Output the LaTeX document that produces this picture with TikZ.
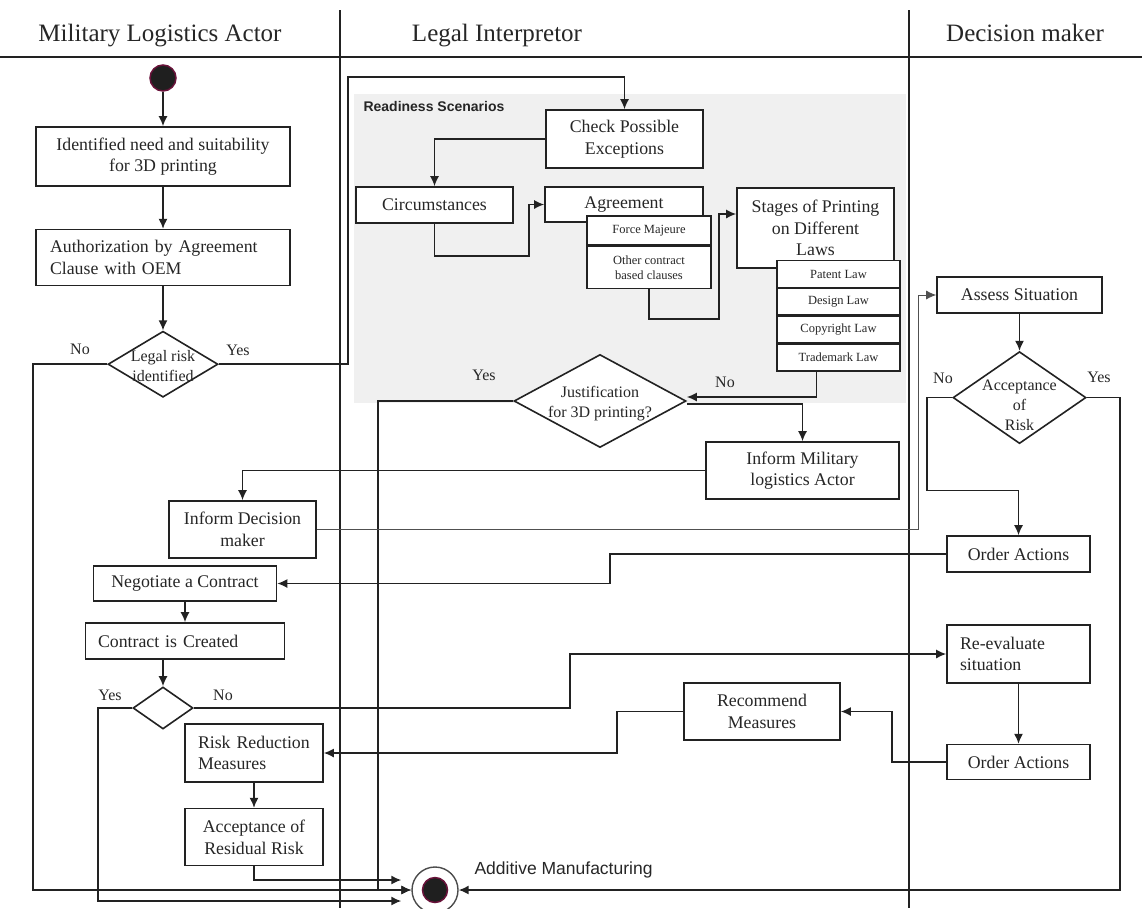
\documentclass[tikz,border=0pt]{standalone}
\usepackage{fontspec}
\setmainfont{Liberation Serif}
\setsansfont{Liberation Sans}
\usepackage{tikz}
\usetikzlibrary{
  arrows.meta,
  positioning,
  calc,
  shapes.geometric
}
\definecolor{LaneInk}{RGB}{34,34,34}
\definecolor{TextInk}{RGB}{38,38,38}
\definecolor{PanelGray}{RGB}{240,240,240}
\definecolor{StartMaroon}{RGB}{105,18,58}
\definecolor{ThinGray}{RGB}{80,80,80}
\tikzset{
  actbox/.style={draw=LaneInk,fill=white,line width=1.6pt,inner sep=0pt,align=center,text=TextInk,font=\fontsize{17.8}{21.5}\selectfont},
  leftbox/.style={actbox,align=left},
  subbox/.style={draw=LaneInk,fill=white,line width=1.4pt,inner sep=0pt,align=center,text=TextInk,font=\fontsize{12.5}{15}\selectfont},
  lawbox/.style={subbox,minimum width=123pt,minimum height=26.5pt},
  decision/.style={diamond,draw=LaneInk,fill=white,line width=1.6pt,inner sep=0pt},
  dtext/.style={align=center,text=TextInk,font=\fontsize{16}{20}\selectfont},
  lanehead/.style={text=TextInk,anchor=base,font=\fontsize{25}{28}\selectfont},
  branch/.style={text=TextInk,font=\fontsize{16}{20}\selectfont},
  flow/.style={-{Latex[length=10pt,width=9pt]},line width=1.5pt,draw=LaneInk},
  thinflow/.style={-{Latex[length=10pt,width=9pt]},line width=0.9pt,draw=ThinGray},
  laneline/.style={line width=1.5pt,draw=LaneInk},
  startdot/.style={circle,fill=black!88,draw=StartMaroon,line width=1.5pt,minimum size=26pt,inner sep=0pt},
  enddot/.style={circle,draw=black!70,fill=white,line width=1.4pt,minimum size=46pt,inner sep=0pt,
    path picture={\filldraw[fill=black!88,draw=StartMaroon,line width=1.5pt] (path picture bounding box.center) circle (12.5pt);}}
}

\begin{document}
\begin{tikzpicture}[x=1pt,y=-1pt]
\useasboundingbox (0,0) rectangle (1142,908);
% lanes
\fill[PanelGray] (354,94) rectangle (906,403);
\draw[laneline] (0,57) -- (1142,57);
\draw[laneline] (340,10) -- (340,908);
\draw[laneline] (909,10) -- (909,908);
\node[lanehead] (h1) at (160,41) {Military Logistics Actor};
\node[lanehead] (h2) at (497,41) {Legal Interpretor};
\node[lanehead] (h3) at (1025,41) {Decision maker};
\node[font=\sffamily\bfseries\fontsize{14}{16}\selectfont,text=TextInk,anchor=west] (rs) at (360,106) {Readiness Scenarios};

% military logistics actor
\node[startdot] (start) at (163,78) {};
\node[actbox,minimum width=254pt,minimum height=59pt] (need) at (163,156.5) {Identified need and suitability\\for 3D printing};
\node[leftbox,text width=226pt,inner xsep=14pt,minimum height=56pt,below=42pt of need] (auth) {Authorization by Agreement\\Clause with OEM};
\node[decision,minimum width=110pt,minimum height=66pt,below=44pt of auth,label={[dtext,yshift=-2pt]center:{Legal risk\\identified}}] (risk) {};
\node[actbox,minimum width=147pt,minimum height=57pt] (idm) at (242.5,529.5) {Inform Decision\\maker};
\node[actbox,minimum width=183pt,minimum height=35pt] (neg) at (185,583.5) {Negotiate a Contract};
\node[leftbox,text width=174pt,inner xsep=12.5pt,minimum height=36pt] (cre) at (185,641) {Contract is Created};
\node[decision,minimum width=60pt,minimum height=42pt] (cdec) at (163,708) {};
\node[leftbox,text width=112pt,inner xsep=13pt,minimum height=58pt] (rrm) at (254,753) {Risk Reduction\\Measures};
\node[actbox,minimum width=138pt,minimum height=57pt,below=25pt of rrm] (arr) {Acceptance of\\Residual Risk};
\node[enddot] (endn) at (435,890) {};
\node[font=\sffamily\fontsize{17.5}{20}\selectfont,text=TextInk,anchor=west] (am) at (471,870) {Additive Manufacturing};

% legal interpretor
\node[actbox,minimum width=157pt,minimum height=58pt] (chk) at (624.5,139) {Check Possible\\Exceptions};
\node[actbox,minimum width=157pt,minimum height=36pt] (circ) at (434.5,205) {Circumstances};
\node[actbox,minimum width=158pt,minimum height=35pt] (agr) at (624,204.5) {Agreement};
\node[subbox,minimum width=124pt,minimum height=29pt] (fm) at (649,230.5) {Force Majeure};
\node[subbox,minimum width=124pt,minimum height=42pt,below=0pt of fm] (occ) {Other contract\\based clauses};
\node[actbox,minimum width=157pt,minimum height=80pt] (stg) at (815.5,228) {Stages of Printing\\on Different\\Laws};
\node[lawbox] (pat) at (838.5,274) {Patent Law};
\node[lawbox,below=0pt of pat] (des) {Design Law};
\node[lawbox,below=0pt of des] (cop) {Copyright Law};
\node[lawbox,below=0pt of cop] (tm) {Trademark Law};
\node[decision,minimum width=172pt,minimum height=93pt,label={[dtext,yshift=-3pt]center:{Justification\\for 3D printing?}}] (just) at (600,401) {};
\node[actbox,minimum width=193pt,minimum height=57pt] (imla) at (802.5,470.5) {Inform Military\\logistics Actor};
\node[actbox,minimum width=156pt,minimum height=57pt] (rec) at (762,711.5) {Recommend\\Measures};

% decision maker
\node[actbox,minimum width=165pt,minimum height=36pt] (ass) at (1019.5,295) {Assess Situation};
\node[decision,minimum width=133pt,minimum height=92pt,below=37pt of ass,label={[dtext,yshift=-8pt]center:{Acceptance\\of\\Risk}}] (acc) {};
\node[actbox,minimum width=143pt,minimum height=36pt] (oa1) at (1018.5,554) {Order Actions};
\node[leftbox,text width=117pt,inner xsep=13pt,minimum height=58pt] (rev) at (1018.5,654) {Re-evaluate\\situation};
\node[actbox,minimum width=143pt,minimum height=35pt,below=60pt of rev] (oa2) {Order Actions};

% branch labels
\node[branch] (rno) at (80,349) {No};
\node[branch] (ryes) at (238,350) {Yes};
\node[branch] (jyes) at (484,375) {Yes};
\node[branch] (jno) at (725,382) {No};
\node[branch] (ano) at (943,378) {No};
\node[branch] (ayes) at (1099,377) {Yes};
\node[branch] (cyes) at (110,695) {Yes};
\node[branch] (cno) at (223,695) {No};

% flows
\draw[flow] (start) -- (need);
\draw[flow] (need) -- (auth);
\draw[flow] (auth) -- (risk);
\draw[flow] (risk.west) -- ++(-74,0) |- (endn.west);
\draw[flow] (risk.east) -| (348,77) -| (chk.north);
\draw[flow] (chk.west) -| (circ.north);
\draw[flow] (circ.south) |- (529,256) |- (agr.west);
\draw[flow] (occ.south) |- (719,319) |- ([yshift=14pt]stg.west);
\draw[flow] ([xshift=-22pt]tm.south) |- ([yshift=4pt]just.east);
\draw[flow] ([yshift=-3pt]just.east) -| (imla.north);
\draw[flow] (just.west) -- ++(-135,0) |- (endn.west);
\draw[flow] (imla.west) -| (idm.north);
\draw[thinflow] (idm.east) -- ++(602,0) |- (ass.west);
\draw[flow] (ass) -- (acc);
\draw[flow] (acc.west) -- ++(-25,0) -- ++(0,93) -| (oa1.north);
\draw[flow] (acc.east) -- ++(33,0) |- (endn.east);
\draw[flow] (oa1.west) -- ++(-336,0) |- (neg.east);
\draw[flow] (neg) -- (cre);
\draw[flow] (cre.south -| cdec.north) -- (cdec.north);
\draw[flow] (cdec.west) -- ++(-34,0) |- ([xshift=-10pt,yshift=-11pt]endn.west);
\draw[flow] (cdec.east) -- ++(376,0) |- (rev.west);
\draw[flow] (rev) -- (oa2);
\draw[flow] (oa2.west) -- ++(-54,0) |- (rec.east);
\draw[flow] (rec.west) -- ++(-66,0) |- (rrm.east);
\draw[flow] (rrm) -- (arr);
\draw[flow] (arr.south) |- ([xshift=-10pt,yshift=10pt]endn.west);
\end{tikzpicture}
\end{document}
